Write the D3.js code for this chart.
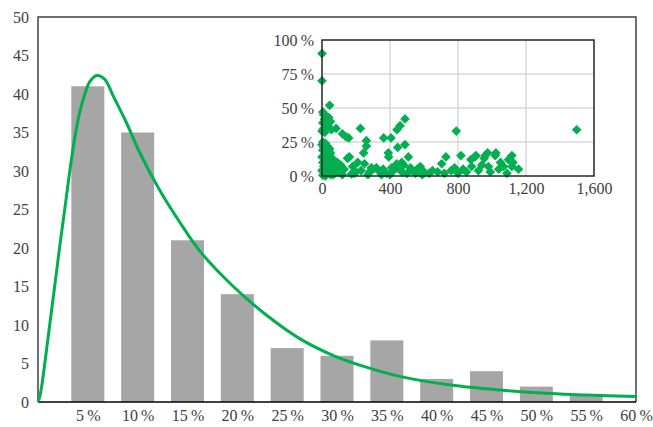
<!DOCTYPE html>
<html>
<head>
<meta charset="utf-8">
<script src="https://cdn.jsdelivr.net/npm/d3@7"></script>
<style>
  body { margin: 0; background: #fff; }
  svg text { font-family: "Liberation Serif", "DejaVu Serif", serif; fill: #404040; }
</style>
</head>
<body>
<svg id="chart" width="653" height="427"></svg>
<script>
// histogram of shares (bars) + fitted curve
var binLabels = [5, 10, 15, 20, 25, 30, 35, 40, 45, 50, 55];
var binCounts = [41, 35, 21, 14, 7, 6, 8, 3, 4, 2, 1];

// fitted curve: [percent, value]
var fitCurve = [
    [0, 0], [0.2, 0.8], [0.4, 2.3], [0.7, 5.2], [1.2, 10.3], [1.7, 15.3],
    [2.2, 20.4], [2.7, 25.2], [3.2, 30.1], [3.7, 34.4], [4.2, 37.7],
    [4.7, 40.0], [5.2, 41.6], [5.9, 42.4], [6.7, 41.9], [7.6, 39.6],
    [8.9, 36.2], [10.2, 32.4], [12.3, 27.3], [14.3, 23.2], [16.3, 19.5],
    [19.6, 15.0], [23.0, 11.2], [26.3, 8.2], [29.7, 6.0], [33.0, 4.5],
    [36.4, 3.3], [41.4, 2.2], [46.4, 1.55], [51.4, 1.1], [55.0, 0.9], [60, 0.7]
];

var yTicks = [0, 5, 10, 15, 20, 25, 30, 35, 40, 45, 50];

// inset scatter: [x value, share in %]
var scatterPts = [
    [0, 90], [0, 70], [45, 52], [5, 47], [10, 45], [25, 44], [40, 43], [15, 42],
    [30, 41], [50, 40], [5, 39], [20, 38], [35, 37], [10, 35], [55, 34], [0, 33],
    [15, 32], [5, 25], [20, 24], [0, 23], [30, 22], [10, 21], [45, 20], [5, 19],
    [25, 18], [50, 17], [15, 16], [35, 15], [0, 14], [60, 13], [20, 12], [40, 11],
    [5, 10], [30, 9], [55, 8], [10, 7], [45, 6], [25, 5], [0, 4], [15, 3],
    [35, 2], [50, 1], [5, 0.5], [20, 0], [70, 4], [65, 1],
    [83, 35], [120, 31], [157, 28], [226, 35], [140, 29], [261, 26], [261, 22],
    [245, 17], [161, 14], [150, 13], [90, 10], [110, 8], [70, 6], [130, 5],
    [173, 1.5], [200, 3], [180, 7], [230, 4], [250, 9], [280, 3], [290, 6],
    [100, 3], [75, 2], [210, 10], [300, 5], [270, 1], [190, 2], [120, 1],
    [363, 28], [406, 28], [488, 42], [459, 37], [441, 34], [445, 21], [488, 23],
    [390, 17], [392, 14], [508, 14], [469, 10], [578, 7], [340, 3], [360, 5],
    [380, 2], [420, 4], [440, 6], [470, 3], [500, 2], [530, 4], [550, 2],
    [560, 5], [600, 3], [320, 6], [350, 1], [400, 1], [480, 8], [520, 6],
    [590, 1], [440, 9], [410, 6], [630, 2], [650, 4], [680, 3], [704, 9],
    [720, 2], [729, 14], [790, 33], [817, 15], [760, 4], [780, 6], [800, 2],
    [830, 5], [850, 3], [876, 12], [880, 7], [900, 14], [905, 15], [920, 4],
    [940, 8], [954, 13], [960, 15], [979, 7], [974, 17], [990, 3], [1019, 15],
    [1023, 17], [1040, 5], [1050, 10], [1068, 7], [1088, 2], [1097, 12],
    [1117, 15], [1117, 7], [1123, 10], [1156, 5], [1498, 34]
];

var insetXTicks = [0, 400, 800, 1200, 1600];
var insetYTicks = [0, 25, 50, 75, 100];

var GREEN = '#00b050';
var BAR_GRAY = '#a6a6a6';
var BAR_WIDTH = 33;

var svg = d3.select('#chart');

var xScale = d3.scaleLinear().domain([0, 60]).range([38, 636]);
var yScale = d3.scaleLinear().domain([0, 50]).range([402, 17]);

// bars
svg.append('g').selectAll('rect')
    .data(binLabels)
    .enter().append('rect')
    .attr('x', function (d) { return xScale(d) - BAR_WIDTH / 2; })
    .attr('y', function (d, i) { return yScale(binCounts[i]); })
    .attr('width', BAR_WIDTH)
    .attr('height', function (d, i) { return yScale(0) - yScale(binCounts[i]); })
    .attr('fill', BAR_GRAY);

// y axis labels
var yAxis = d3.axisLeft(yScale).tickValues(yTicks).tickSize(0).tickPadding(9);
var yG = svg.append('g')
    .attr('transform', 'translate(' + xScale(0) + ',0)')
    .call(yAxis);
yG.select('.domain').remove();
yG.selectAll('text').style('font-size', '16px').attr('fill', '#404040');

// x axis labels
var xAxis = d3.axisBottom(xScale)
    .tickValues(binLabels.concat([60]))
    .tickSize(0)
    .tickPadding(8)
    .tickFormat(function (d) { return d + '\u2009%'; });
var xG = svg.append('g')
    .attr('transform', 'translate(0,' + yScale(0) + ')')
    .call(xAxis);
xG.select('.domain').remove();
xG.selectAll('text').style('font-size', '16px').attr('fill', '#404040');

// frame
svg.append('path')
    .attr('d', 'M' + xScale(0) + ',' + yScale(0) + 'V' + yScale(50) + 'H' + xScale(60) + 'V' + yScale(0))
    .attr('fill', 'none')
    .attr('stroke', '#404040')
    .attr('stroke-width', 1.5);
svg.append('line')
    .attr('x1', xScale(0)).attr('x2', xScale(60))
    .attr('y1', yScale(0)).attr('y2', yScale(0))
    .attr('stroke', '#000')
    .attr('stroke-width', 1.5);

// fitted curve
var line = d3.line()
    .x(function (d) { return xScale(d[0]); })
    .y(function (d) { return yScale(d[1]); })
    .curve(d3.curveCatmullRom.alpha(0.5));
svg.append('path')
    .datum(fitCurve)
    .attr('d', line)
    .attr('fill', 'none')
    .attr('stroke', GREEN)
    .attr('stroke-width', 3);

// ---- inset scatter ----
var ix = d3.scaleLinear().domain([0, 1600]).range([322, 594]);
var iy = d3.scaleLinear().domain([0, 100]).range([176, 40]);

var inset = svg.append('g');
inset.append('rect')
    .attr('x', ix(0)).attr('y', iy(100))
    .attr('width', ix(1600) - ix(0)).attr('height', iy(0) - iy(100))
    .attr('fill', '#fff');

inset.append('g').selectAll('line')
    .data(insetXTicks.slice(1, -1))
    .enter().append('line')
    .attr('x1', ix).attr('x2', ix)
    .attr('y1', iy(0)).attr('y2', iy(100))
    .attr('stroke', '#d9d9d9').attr('stroke-width', 1.5);
inset.append('g').selectAll('line')
    .data(insetYTicks.slice(1, -1))
    .enter().append('line')
    .attr('x1', ix(0)).attr('x2', ix(1600))
    .attr('y1', iy).attr('y2', iy)
    .attr('stroke', '#d9d9d9').attr('stroke-width', 1.5);

var diamond = d3.symbol().type(d3.symbolDiamond2).size(60);
inset.append('g').selectAll('path')
    .data(scatterPts)
    .enter().append('path')
    .attr('d', diamond)
    .attr('transform', function (d) { return 'translate(' + ix(d[0]) + ',' + iy(d[1]) + ')'; })
    .attr('fill', GREEN);

inset.append('rect')
    .attr('x', ix(0)).attr('y', iy(100))
    .attr('width', ix(1600) - ix(0)).attr('height', iy(0) - iy(100))
    .attr('fill', 'none')
    .attr('stroke', '#262626')
    .attr('stroke-width', 1.5);

var iyAxis = d3.axisLeft(iy).tickValues(insetYTicks).tickSize(0).tickPadding(8)
    .tickFormat(function (d) { return d + '\u2009%'; });
var iyG = inset.append('g').attr('transform', 'translate(' + ix(0) + ',0)').call(iyAxis);
iyG.select('.domain').remove();
iyG.selectAll('text').style('font-size', '16px').attr('fill', '#404040');

var ixAxis = d3.axisBottom(ix).tickValues(insetXTicks).tickSize(0).tickPadding(7)
    .tickFormat(d3.format(','));
var ixG = inset.append('g').attr('transform', 'translate(0,' + iy(0) + ')').call(ixAxis);
ixG.select('.domain').remove();
ixG.selectAll('text').style('font-size', '16px').attr('fill', '#404040');
</script>
</body>
</html>
